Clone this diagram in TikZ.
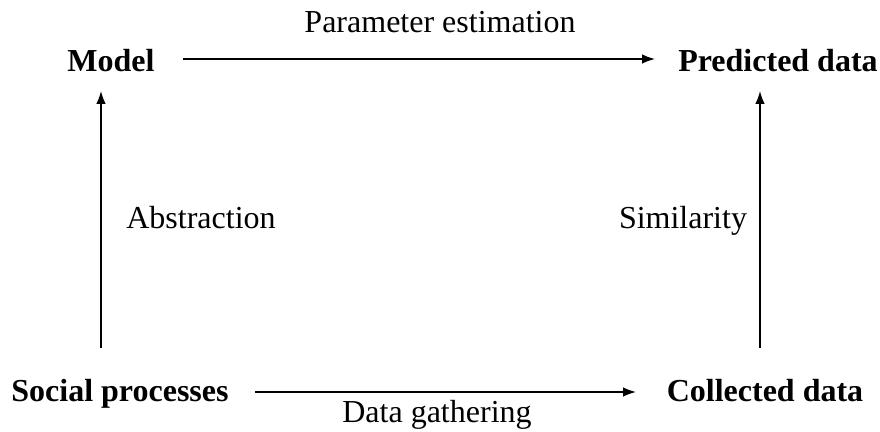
\documentclass[tikz,border=0pt]{standalone}
\usepackage{fontspec}
\setmainfont{Liberation Serif}
\usetikzlibrary{arrows.meta}
\begin{document}
\begin{tikzpicture}[x=0.5pt,y=-0.5pt,
  concept/.style={font=\fontsize{16}{19}\selectfont\bfseries, inner sep=0pt, anchor=base},
  lbl/.style={font=\fontsize{16}{19}\selectfont, inner sep=0pt, anchor=base},
  flow/.style={line width=0.75pt, -{Latex[length=6.5pt,width=4.8pt]}}]
  \useasboundingbox (0,0) rectangle (880,432);
  % the four stages
  \node[concept] (model) at (111,72) {Model};
  \node[concept] (pred)  at (778,72) {Predicted data};
  \node[concept] (soc)   at (120,402) {Social processes};
  \node[concept] (coll)  at (765,402) {Collected data};
  % arrow end points
  \coordinate (mR) at (183,59);
  \coordinate (pL) at (655,59);
  \coordinate (sR) at (255,392);
  \coordinate (cL) at (636,392);
  \coordinate (sT) at (101,348);
  \coordinate (mB) at (101,91);
  \coordinate (cT) at (760,348);
  \coordinate (pB) at (760,91);
  \draw[flow] (mR) -- (pL);
  \draw[flow] (sR) -- (cL);
  \draw[flow] (sT) -- (mB);
  \draw[flow] (cT) -- (pB);
  % transition labels
  \node[lbl] (pe) at (440,33) {Parameter estimation};
  \node[lbl] (dg) at (437,423) {Data gathering};
  \node[lbl] (ab) at (201,229) {Abstraction};
  \node[lbl] (si) at (683,229) {Similarity};
\end{tikzpicture}
\end{document}
